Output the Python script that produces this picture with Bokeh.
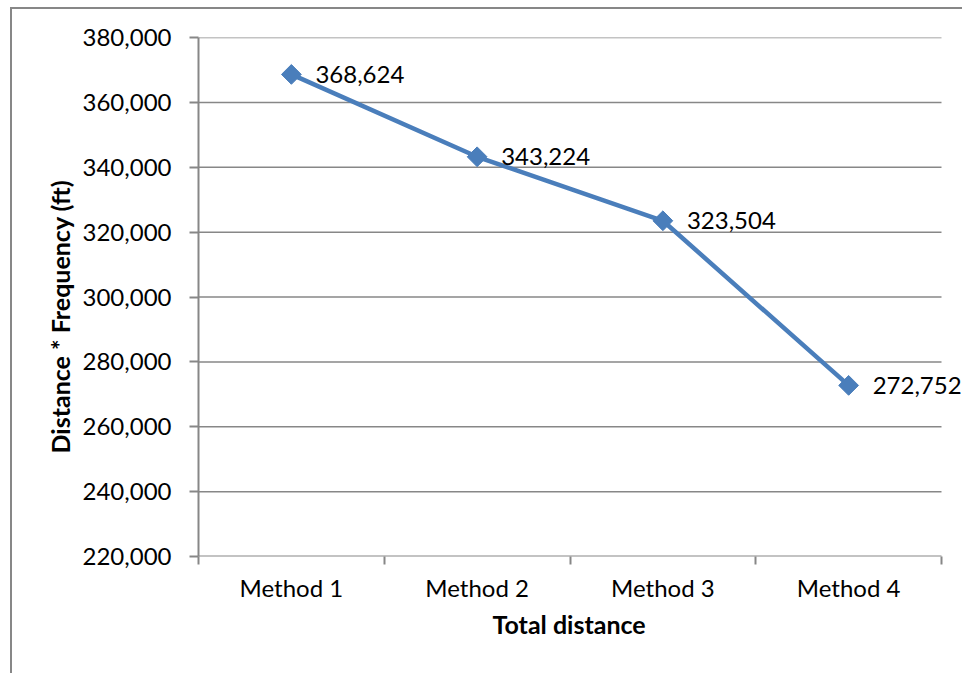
import math

from bokeh.core.properties import value
from bokeh.embed import file_html
from bokeh.models import ColumnDataSource, FixedTicker, LabelSet, NumeralTickFormatter, Range1d, Title
from bokeh.plotting import figure
from bokeh.resources import INLINE

# Data
categories = ["Method 1", "Method 2", "Method 3", "Method 4"]
totals = [368624, 343224, 323504, 272752]
y_ticks = [220000, 240000, 260000, 280000, 300000, 320000, 340000, 360000, 380000]
x_title = "Total distance"
y_title = "Distance * Frequency (ft)"

FONT = "Lato"
GRAY = "#878787"
BLUE = "#4A7EBB"
TEXT_SIZE = "24px"
TITLE_SIZE = "25px"

# canvas geometry
PLOT_W, PLOT_H = 952, 666
BORDER_L, BORDER_T, BORDER_B = 186, 28, 119
AXIS_W = 743          # width of the category axis itself
FRAME_W = PLOT_W - BORDER_L   # frame runs to the right edge so data labels are not cut

# each category sits in the middle of its own unit-wide slot
n = len(categories)
centers = [i + 0.5 for i in range(n)]
edges = list(range(n + 1))

source = ColumnDataSource(dict(
    x=centers,
    y=totals,
    label=[f"{v:,}" for v in totals],
))

p = figure(
    width=PLOT_W, height=PLOT_H,
    x_range=Range1d(0, n * FRAME_W / AXIS_W),
    y_range=Range1d(y_ticks[0], y_ticks[-1]),
    output_backend="svg", toolbar_location=None,
    min_border_left=BORDER_L, min_border_right=0,
    min_border_top=BORDER_T, min_border_bottom=BORDER_B,
)
# chart-area border: only its left and top edges fall inside the page
p.styles = {
    "margin-left": "10px",
    "margin-top": "7px",
    "border-left": "2px solid #878787",
    "border-top": "2px solid #878787",
}
p.outline_line_color = None
p.background_fill_color = "white"
p.border_fill_color = "white"

# x axis: labels at category centres, tick marks on category edges
xa = p.xaxis[0]
xa.ticker = FixedTicker(ticks=centers, minor_ticks=edges)
xa.major_label_overrides = {c: name for c, name in zip(centers, categories)}
xa.major_tick_in = 0
xa.major_tick_out = 0
xa.minor_tick_in = 0
xa.minor_tick_out = 8
xa.minor_tick_line_color = GRAY
xa.minor_tick_line_width = 2
xa.axis_line_color = None
xa.major_label_text_font = FONT
xa.major_label_text_font_size = TEXT_SIZE
xa.major_label_text_color = "black"
xa.major_label_standoff = 8

# y axis
ya = p.yaxis[0]
ya.ticker = FixedTicker(ticks=y_ticks, minor_ticks=[])
ya.formatter = NumeralTickFormatter(format="0,0")
ya.major_tick_in = 0
ya.major_tick_out = 9
ya.major_tick_line_color = GRAY
ya.major_tick_line_width = 2
ya.minor_tick_line_color = None
ya.axis_line_color = GRAY
ya.axis_line_width = 2
ya.major_label_text_font = FONT
ya.major_label_text_font_size = TEXT_SIZE
ya.major_label_text_color = "black"
ya.major_label_standoff = 18

# axis titles, placed along the category span rather than the whole frame
p.add_layout(Title(text=x_title, align="left", offset=294, standoff=5,
                   text_font=FONT, text_font_size=TITLE_SIZE, text_font_style="bold",
                   text_color="black"), "below")
p.add_layout(Title(text=y_title, align="left", offset=103, standoff=10,
                   text_font=FONT, text_font_size=TITLE_SIZE, text_font_style="bold",
                   text_color="black"), "left")

# horizontal gridlines over the category span only, plus the category baseline
p.xgrid.visible = False
p.ygrid.visible = False
p.segment(x0=0, x1=n, y0=y_ticks[1:], y1=y_ticks[1:], line_color=GRAY, line_width=1.5)
p.segment(x0=[0], x1=[n], y0=[y_ticks[0]], y1=[y_ticks[0]], line_color=GRAY, line_width=2)

# series
p.line("x", "y", source=source, line_color=BLUE, line_width=4.5)
p.scatter("x", "y", source=source, marker="square", size=14, angle=math.pi / 4,
          fill_color=BLUE, line_color=BLUE)
p.add_layout(LabelSet(x="x", y="y", text="label", source=source, x_offset=24,
                      text_align="left", text_baseline="middle",
                      text_font=value(FONT), text_font_size=TEXT_SIZE, text_color="black"))

open("out.html", "w").write(file_html(p, INLINE))
